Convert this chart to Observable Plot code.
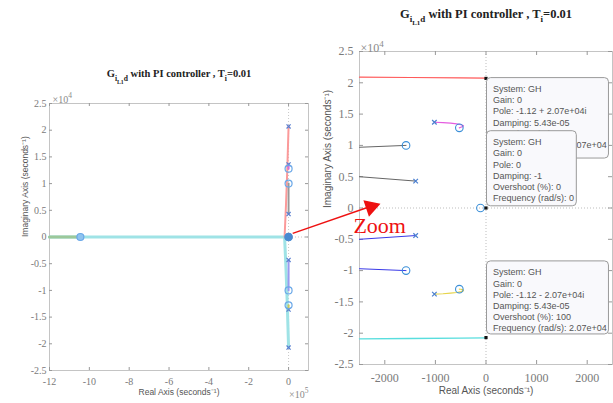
<!DOCTYPE html>
<html><head><meta charset="utf-8">
<script src="https://cdn.jsdelivr.net/npm/d3@7"></script>
<script src="https://cdn.jsdelivr.net/npm/@observablehq/plot@0.6"></script>
<style>
body{margin:0;background:#fff;}
#wrap{position:relative;width:613px;height:403px;overflow:hidden;background:#fff;}
#wrap svg{position:absolute;left:0;top:0;}
</style></head><body><div id="wrap"></div>
<script>
// ---------- tick values ----------
const leftXTicks = [-12, -10, -8, -6, -4, -2, 0];          // ×10^5
const yTicks = [-2.5, -2, -1.5, -1, -0.5, 0, 0.5, 1, 1.5, 2, 2.5]; // ×10^4
const rightXTicks = [-2000, -1000, 0, 1000, 2000];

// ---------- left panel (full view): real ×1e5, imag ×1e4 ----------
const lCyanRe = [-12, -6, -2, -0.2, -0.13, -0.07, -0.03, 0];
const lCyanIm = [0, 0, 0, 0, -0.6, -1.2, -1.7, -2.07];
const lRedRe = [-0.2, -0.13, -0.07, -0.03, 0];
const lRedIm = [0, 0.6, 1.2, 1.7, 2.07];
const lGreenRe = [-12, -10.45];
const lGreenIm = [0, 0];
const lGrayRe = [0, 0];
const lGrayIm = [1.0, 0.43];
const lBlueRe = [0, 0];
const lBlueIm = [-0.43, -1.0];
const lMagRe = [0, 0];
const lMagIm = [1.36, 1.28];
const lYelRe = [0, 0];
const lYelIm = [-1.36, -1.28];
const lPoleRe = [0, 0, 0, 0, 0, 0];
const lPoleIm = [2.07, -2.07, 1.36, -1.36, 0.43, -0.43];
const lZeroRe = [0, 0, 0, 0, 0, -10.45];
const lZeroIm = [1.28, -1.28, 1.0, -1.0, 0, 0];

// ---------- right panel (zoom): real s^-1, imag ×1e4 ----------
const rRedRe = [-2500, -1500, -500, 0];
const rRedIm = [2.09, 2.085, 2.078, 2.075];
const rMagRe = [-1020, -850, -700, -580, -490, -445, -460, -500, -527];
const rMagIm = [1.37, 1.365, 1.355, 1.345, 1.33, 1.315, 1.3, 1.29, 1.28];
const rGray1Re = [-2500, -1580];
const rGray1Im = [0.97, 1.0];
const rGray2Re = [-2500, -1390];
const rGray2Im = [0.50, 0.43];
const rBlue1Re = [-2500, -1390];
const rBlue1Im = [-0.50, -0.44];
const rBlue2Re = [-2500, -1580];
const rBlue2Im = [-0.97, -1.0];
const rYelRe = [-1020, -850, -700, -580, -490, -445, -460, -500, -527];
const rYelIm = [-1.375, -1.37, -1.36, -1.35, -1.335, -1.32, -1.305, -1.298, -1.296];
const rCyanRe = [-2500, -1500, -500, 0];
const rCyanIm = [-2.09, -2.085, -2.078, -2.075];
const rPoleRe = [-1020, -1390, -1390, -1020];
const rPoleIm = [1.37, 0.43, -0.44, -1.375];
const rZeroRe = [-527, -1580, -1580, -527, -110];
const rZeroIm = [1.28, 1.0, -1.0, -1.296, 0];
const tipRe = [0, 0, 0];
const tipIm = [2.07, 0, -2.07];
const tipTexts = [
  "System: GH\nGain: 0\nPole: -1.12 + 2.07e+04i\nDamping: 5.43e-05\nOvershoot (%): 0\nFrequency (rad/s): 2.07e+04",
  "System: GH\nGain: 0\nPole: 0\nDamping: -1\nOvershoot (%): 0\nFrequency (rad/s): 0",
  "System: GH\nGain: 0\nPole: -1.12 - 2.07e+04i\nDamping: 5.43e-05\nOvershoot (%): 100\nFrequency (rad/s): 2.07e+04"
];
const titleText = "Gi L1 d with PI controller , Ti=0.01";
const xLabel = "Real Axis (seconds⁻¹)";
const yLabel = "Imaginary Axis (seconds⁻¹)";
const zoomLabel = "Zoom";

// ---------- helpers ----------
const pts = (re, im) => re.map((r, i) => ({re: r, im: im[i]}));
const fmt = d => String(d);
const SERIF = "Liberation Serif, Times New Roman, serif";
const SANS = "Liberation Sans, Arial, sans-serif";
const POLE = "#3a8fd8";

function frameTicks(xt, yt, W, H, len) {
  return [
    Plot.tickX(xt, {x: d => d, insetTop: H - len, stroke: "#999"}),
    Plot.tickX(xt, {x: d => d, insetBottom: H - len, stroke: "#999"}),
    Plot.tickY(yt, {y: d => d, insetRight: W - len, stroke: "#999"}),
    Plot.tickY(yt, {y: d => d, insetLeft: W - len, stroke: "#999"})
  ];
}

// ---------- left plot ----------
const L = {ml: 49, mr: 305, mt: 103, mb: 33};
const LW = 613 - L.ml - L.mr, LH = 403 - L.mt - L.mb;
const left = Plot.plot({
  width: 613, height: 403,
  marginLeft: L.ml, marginRight: L.mr, marginTop: L.mt, marginBottom: L.mb,
  style: {background: "transparent", color: "#7a7a7a", fontFamily: SERIF},
  x: {domain: [-12, 1]},
  y: {domain: [-2.5, 2.5]},
  marks: [
    Plot.ruleX([0], {stroke: "#c8c8c8", strokeDasharray: "1,2"}),
    Plot.ruleY([0], {stroke: "#c8c8c8", strokeDasharray: "1,2"}),
    Plot.frame({stroke: "#c4c4c4"}),
    ...frameTicks(leftXTicks, yTicks, LW, LH, 3),
    Plot.axisX(leftXTicks, {tickSize: 0, tickPadding: 7, tickFormat: fmt, fontSize: 10, label: null}),
    Plot.axisY(yTicks, {tickSize: 0, tickPadding: 3, tickFormat: fmt, fontSize: 10, label: null}),
    Plot.line(pts(lCyanRe, lCyanIm), {x: "re", y: "im", stroke: "#9fe3e6", strokeWidth: 3}),
    Plot.line(pts(lGreenRe, lGreenIm), {x: "re", y: "im", stroke: "#9cc89a", strokeWidth: 3}),
    Plot.line(pts(lRedRe, lRedIm), {x: "re", y: "im", stroke: "#fb9a9a", strokeWidth: 2}),
    Plot.line(pts(lGrayRe, lGrayIm), {x: "re", y: "im", stroke: "#999", strokeWidth: 2, strokeDasharray: "1,1"}),
    Plot.line(pts(lBlueRe, lBlueIm), {x: "re", y: "im", stroke: "#9a9af0", strokeWidth: 2}),
    Plot.line(pts(lMagRe, lMagIm), {x: "re", y: "im", stroke: "#d070e0", strokeWidth: 2}),
    Plot.line(pts(lYelRe, lYelIm), {x: "re", y: "im", stroke: "#c8c860", strokeWidth: 2}),
    Plot.dot(pts(lPoleRe, lPoleIm), {x: "re", y: "im", symbol: "times", r: 2, stroke: "#5a7fd0", strokeWidth: 1.2}),
    Plot.dot(pts(lZeroRe, lZeroIm), {x: "re", y: "im", symbol: "circle", r: 3.5, stroke: "#6aa8e8", fill: d => d.re < -1 ? "#8fc3ef" : "none", strokeWidth: 1.2}),
    Plot.dot([{re: 0, im: 0}], {x: "re", y: "im", r: 3.5, fill: "#4a8ad0", stroke: "#4a8ad0"}),
    Plot.text([titleText], {frameAnchor: "top", dy: -34, fontSize: 10.5, fontWeight: "bold", fill: "#222", className: "ttl"}),
    Plot.text(["×10"], {frameAnchor: "top-left", dx: 3, dy: -8, fontSize: 10, textAnchor: "start", fill: "#8a8a8a", className: "sup4"}),
    Plot.text(["×10"], {frameAnchor: "bottom-right", dx: 0, dy: 27, fontSize: 10, textAnchor: "end", fill: "#8a8a8a", className: "sup5"}),
    Plot.text([xLabel], {frameAnchor: "bottom", dy: 24.5, fontSize: 8.5, fontFamily: SANS, fill: "#555"}),
    Plot.text([yLabel], {frameAnchor: "left", dx: -24, rotate: -90, fontSize: 8.5, fontFamily: SANS, fill: "#555"})
  ]
});

// ---------- right plot ----------
const R = {ml: 359, mr: 1, mt: 51, mb: 39};
const RW = 613 - R.ml - R.mr, RH = 403 - R.mt - R.mb;
// datatip boxes (annotation layout, data units)
const boxes = [
  {x1: 20, x2: 2430, y1: 2.075, y2: 0.79},
  {x1: 20, x2: 1795, y1: 1.227, y2: 0.027},
  {x1: 20, x2: 2430, y1: -0.853, y2: -2.02}
];
const right = Plot.plot({
  width: 613, height: 403,
  marginLeft: R.ml, marginRight: R.mr, marginTop: R.mt, marginBottom: R.mb,
  style: {background: "transparent", color: "#7a7a7a", fontFamily: SERIF},
  x: {domain: [-2500, 2500]},
  y: {domain: [-2.5, 2.5]},
  marks: [
    Plot.ruleX([0], {stroke: "#bdbdbd", strokeDasharray: "1,2"}),
    Plot.ruleY([0], {stroke: "#bdbdbd", strokeDasharray: "1,2"}),
    Plot.frame({stroke: "#c4c4c4"}),
    ...frameTicks(rightXTicks, yTicks, RW, RH, 4),
    Plot.axisX(rightXTicks, {tickSize: 0, tickPadding: 9, tickFormat: fmt, fontSize: 12, label: null}),
    Plot.axisY(yTicks, {tickSize: 0, tickPadding: 6, tickFormat: fmt, fontSize: 12, label: null}),
    Plot.line(pts(rRedRe, rRedIm), {x: "re", y: "im", stroke: "#ff5a5a", strokeWidth: 1.2}),
    Plot.line(pts(rMagRe, rMagIm), {x: "re", y: "im", stroke: "#e55ce0", strokeWidth: 1.2}),
    Plot.line(pts(rGray1Re, rGray1Im), {x: "re", y: "im", stroke: "#666", strokeWidth: 1}),
    Plot.line(pts(rGray2Re, rGray2Im), {x: "re", y: "im", stroke: "#666", strokeWidth: 1}),
    Plot.line(pts(rBlue1Re, rBlue1Im), {x: "re", y: "im", stroke: "#3a3ae8", strokeWidth: 1}),
    Plot.line(pts(rBlue2Re, rBlue2Im), {x: "re", y: "im", stroke: "#3a3ae8", strokeWidth: 1}),
    Plot.line(pts(rYelRe, rYelIm), {x: "re", y: "im", stroke: "#e6d44a", strokeWidth: 1.2}),
    Plot.line(pts(rCyanRe, rCyanIm), {x: "re", y: "im", stroke: "#58dede", strokeWidth: 1.4}),
    Plot.dot(pts(rPoleRe, rPoleIm), {x: "re", y: "im", symbol: "times", r: 2.2, stroke: "#4a7fd0", strokeWidth: 1.2}),
    Plot.dot(pts(rZeroRe, rZeroIm), {x: "re", y: "im", symbol: "circle", r: 3.8, stroke: POLE, fill: "none", strokeWidth: 1.1}),
    Plot.dot(pts(tipRe, tipIm), {x: "re", y: "im", symbol: "square", r: 1.8, fill: "#111"}),
    ...boxes.flatMap((b, i) => [
      Plot.rect([b], {x1: "x1", x2: "x2", y1: "y1", y2: "y2", rx: 4, fill: "#f9f9fc", stroke: "#9a9a9a", strokeWidth: 1}),
      Plot.text([b], {x: "x1", y: "y1", text: () => tipTexts[i], dx: 6, dy: 6, lineAnchor: "top", textAnchor: "start",
        lineHeight: 1.245, fontSize: 9, fontFamily: SANS, fill: "#555"})
    ]),
    Plot.link([{x1: -3820, y1: -0.405, x2: -2300, y2: 0.02}], {x1: "x1", y1: "y1", x2: "x2", y2: "y2", stroke: "#ee1111", strokeWidth: 1.5, clip: false}),
    Plot.dot([{re: -2274, im: 0.018}], {x: "re", y: "im", symbol: "triangle", r: 5.5, rotate: 71.4, fill: "#ee1111", stroke: "#ee1111", clip: false}),
    Plot.text([zoomLabel], {x: () => -2620, y: () => -0.28, textAnchor: "start", fontSize: 22, fontFamily: SERIF, fill: "#ee1111", clip: false}),
    Plot.text([titleText], {frameAnchor: "top", dy: -42, fontSize: 12.5, fontWeight: "bold", fill: "#222", className: "ttl"}),
    Plot.text(["×10"], {frameAnchor: "top-left", dx: 1, dy: -8, fontSize: 12, textAnchor: "start", fill: "#8a8a8a", className: "sup4"}),
    Plot.text([xLabel], {frameAnchor: "bottom", dy: 29, fontSize: 10, fontFamily: SANS, fill: "#555"}),
    Plot.text([yLabel], {frameAnchor: "left", dx: -32, rotate: -90, fontSize: 10, fontFamily: SANS, fill: "#555"})
  ]
});

const wrap = document.getElementById("wrap");
wrap.append(left, right);

// rich text: subscripts / superscripts
function richTitle(svg) {
  d3.select(svg).selectAll("g.ttl text").each(function () {
    const t = d3.select(this);
    t.text(null);
    const parts = [["G", 0, null], ["i", 4, "72%"], ["L1", 3, "55%"], ["d", -3, "72%"],
                   [" with PI controller , T", -4, null], ["i", 4, "72%"], ["=0.01", -4, null]];
    parts.forEach(([s, dy, fs]) => {
      const ts = t.append("tspan").text(s);
      if (dy) ts.attr("dy", dy);
      if (fs) ts.attr("font-size", fs);
    });
  });
  const sup = (cls, n) => d3.select(svg).selectAll("g." + cls + " text").each(function () {
    d3.select(this).append("tspan").attr("dy", -5).attr("font-size", "75%").text(n);
  });
  sup("sup4", "4");
  sup("sup5", "5");
}
richTitle(left);
richTitle(right);
</script></body></html>
